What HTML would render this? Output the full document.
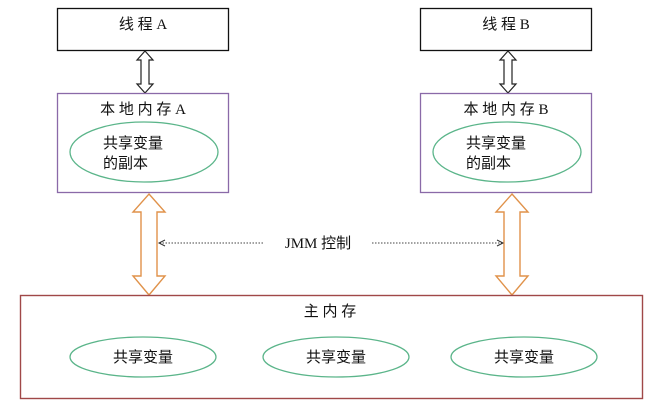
<!DOCTYPE html>
<html><head><meta charset="utf-8"><style>
body{margin:0;background:#fff;}
svg text{font-family:"Liberation Serif","Noto Sans CJK SC",sans-serif;font-size:15px;fill:#111;}
</style></head><body>
<svg width="656" height="403" xmlns="http://www.w3.org/2000/svg">
<rect x="57.5" y="8.5" width="171" height="42" fill="#fff" stroke="#111" stroke-width="1.3"/>
<text x="143" y="29" text-anchor="middle">线 程 A</text>
<rect x="420.5" y="8.5" width="171" height="42" fill="#fff" stroke="#111" stroke-width="1.3"/>
<text x="506" y="29" text-anchor="middle">线 程 B</text>
<path d="M145,51 L153,60 L149,60 L149,84 L153,84 L145,93 L137,84 L141,84 L141,60 L137,60 Z" fill="#fff" stroke="#222" stroke-width="1.2"/>
<path d="M508,51 L516,60 L512,60 L512,84 L516,84 L508,93 L500,84 L504,84 L504,60 L500,60 Z" fill="#fff" stroke="#222" stroke-width="1.2"/>
<rect x="57.5" y="93.5" width="171" height="99" fill="#fff" stroke="#8a6aa8" stroke-width="1.3"/>
<text x="143" y="114" text-anchor="middle">本 地 内 存 A</text>
<ellipse cx="144" cy="152" rx="74" ry="30" fill="none" stroke="#5bb58a" stroke-width="1.3"/>
<text x="103" y="148">共享变量</text>
<text x="103" y="168">的副本</text>
<rect x="420.5" y="93.5" width="171" height="99" fill="#fff" stroke="#8a6aa8" stroke-width="1.3"/>
<text x="506" y="114" text-anchor="middle">本 地 内 存 B</text>
<ellipse cx="507" cy="152" rx="74" ry="30" fill="none" stroke="#5bb58a" stroke-width="1.3"/>
<text x="466" y="148">共享变量</text>
<text x="466" y="168">的副本</text>
<path d="M149,194 L165,212 L157,212 L157,276 L165,276 L149,295 L133,276 L141,276 L141,212 L133,212 Z" fill="#fff" stroke="#e0924a" stroke-width="1.4"/>
<path d="M512,194 L528,212 L520,212 L520,276 L528,276 L512,295 L496,276 L504,276 L504,212 L496,212 Z" fill="#fff" stroke="#e0924a" stroke-width="1.4"/>
<line x1="263" y1="243" x2="160" y2="243" stroke="#444" stroke-dasharray="1.5,1.5"/>
<path d="M165,240 L159,243 L165,246" fill="none" stroke="#333" stroke-width="1"/>
<line x1="372" y1="243" x2="502" y2="243" stroke="#444" stroke-dasharray="1.5,1.5"/>
<path d="M497,240 L503,243 L497,246" fill="none" stroke="#333" stroke-width="1"/>
<text x="318" y="248" text-anchor="middle">JMM 控制</text>
<rect x="20.5" y="295.5" width="622" height="103" fill="#fff" stroke="#a04848" stroke-width="1.4"/>
<text x="330" y="316" text-anchor="middle">主 内 存</text>
<ellipse cx="143" cy="357" rx="73" ry="20" fill="none" stroke="#5bb58a" stroke-width="1.3"/>
<text x="143" y="362" text-anchor="middle">共享变量</text>
<ellipse cx="336" cy="357" rx="73" ry="20" fill="none" stroke="#5bb58a" stroke-width="1.3"/>
<text x="336" y="362" text-anchor="middle">共享变量</text>
<ellipse cx="524" cy="357" rx="73" ry="20" fill="none" stroke="#5bb58a" stroke-width="1.3"/>
<text x="524" y="362" text-anchor="middle">共享变量</text>
</svg>
</body></html>
